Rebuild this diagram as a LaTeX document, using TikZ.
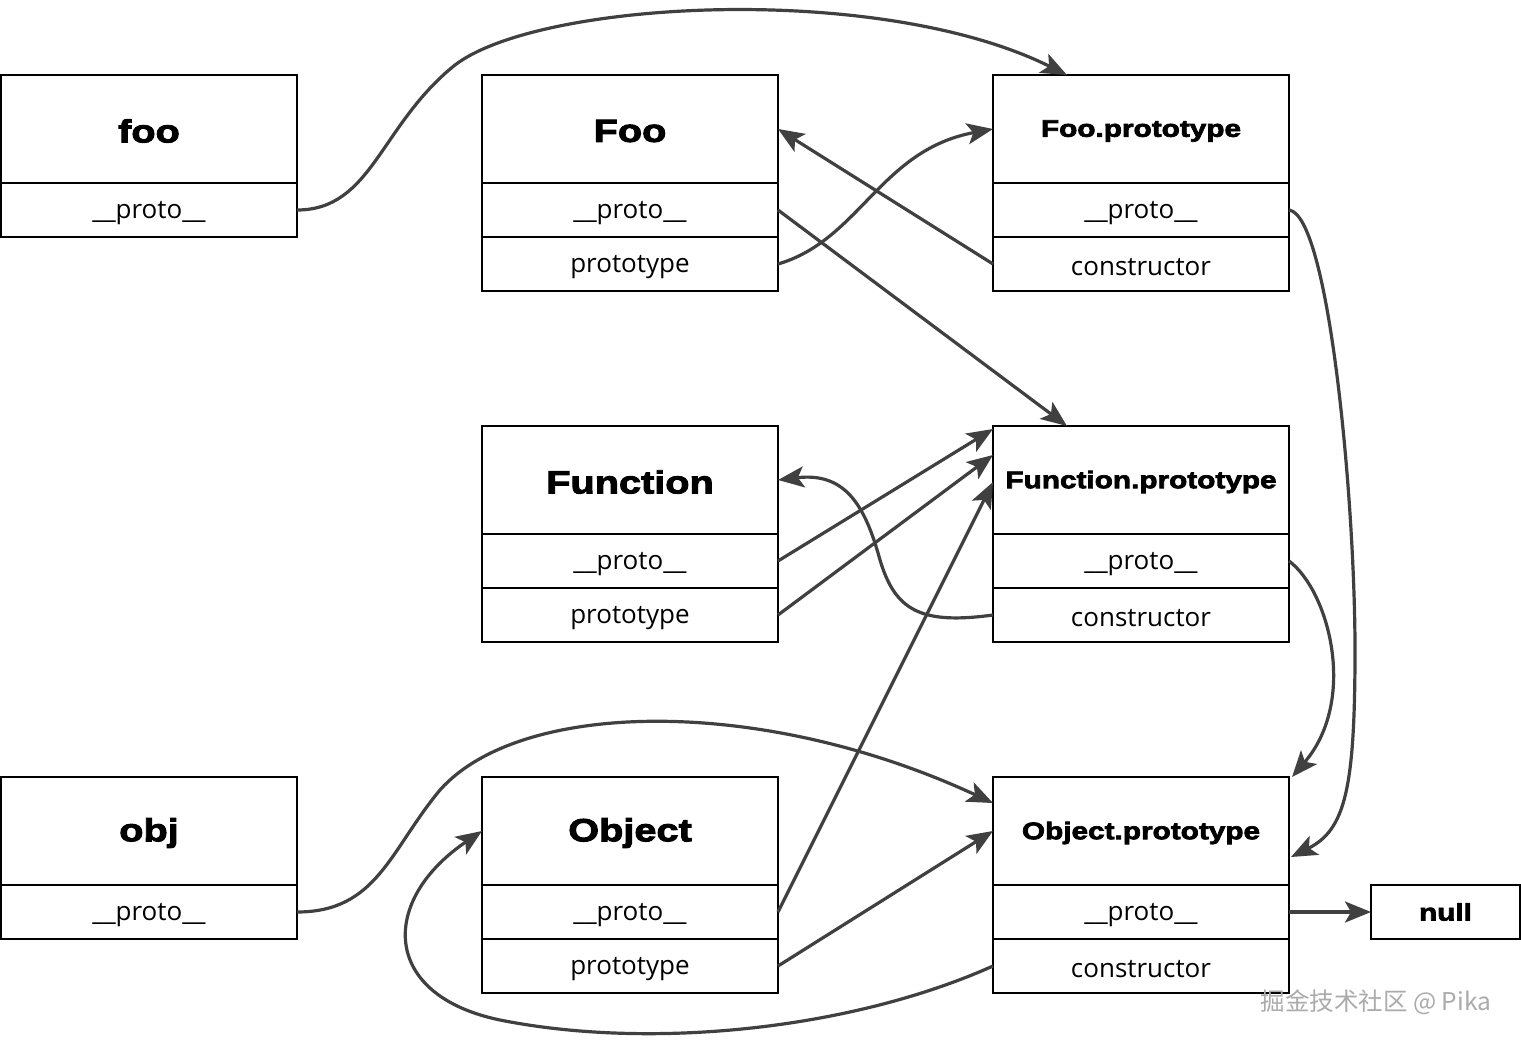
\documentclass[tikz,border=0pt]{standalone}
\usepackage{fontspec}
\setmainfont{Open Sans}
\newfontfamily\titlefont[FakeBold=3,FakeStretch=1.24]{Liberation Sans Bold}
\newfontfamily\cjk{Noto Sans CJK SC}
\usetikzlibrary{arrows.meta,calc}
\definecolor{arr}{HTML}{404040}
\newcommand{\fl}[1]{\raisebox{-3.5pt}[\height][\depth]{#1}}
\newcommand{\tl}[1]{\raisebox{-2pt}[\height][\depth]{#1}}
\begin{document}
\begin{tikzpicture}[x=1pt,y=-1pt,
  hdr/.style={draw=black,line width=1.3pt,outer sep=0pt,minimum width=296pt,minimum height=108pt,inner sep=0pt,anchor=north west},
  fld/.style={draw=black,line width=1.3pt,outer sep=0pt,minimum width=296pt,minimum height=54pt,inner sep=0pt,anchor=north,font=\fontsize{26}{30}\selectfont},
  big/.style={font=\titlefont\fontsize{32}{36}\selectfont},
  mid/.style={font=\titlefont\fontsize{24}{28}\selectfont},
  link/.style={draw=arr,line width=3.2pt,-{Stealth[length=26pt,width=21pt,inset=6pt]}}
]
\useasboundingbox (0,0) rectangle (1521,1044);
\fill[white] (0,0) rectangle (1521,1044);

% foo
\node[hdr,big] (foo) at (1,75) {\tl{foo}};
\node[fld] (fooP) at (foo.south) {\fl{\_\_proto\_\_}};
% Foo
\node[hdr,big] (Foo) at (482,75) {\tl{Foo}};
\node[fld] (FooP) at (Foo.south) {\fl{\_\_proto\_\_}};
\node[fld] (FooT) at (FooP.south) {\fl{prototype}};
% Foo.prototype
\node[hdr,mid] (FPT) at (993,75) {\tl{Foo.prototype}};
\node[fld] (FPTP) at (FPT.south) {\fl{\_\_proto\_\_}};
\node[fld] (FPTC) at (FPTP.south) {\fl{constructor}};
% Function
\node[hdr,big] (Fn) at (482,426) {\tl{Function}};
\node[fld] (FnP) at (Fn.south) {\fl{\_\_proto\_\_}};
\node[fld] (FnT) at (FnP.south) {\fl{prototype}};
% Function.prototype
\node[hdr,mid] (FnPT) at (993,426) {\tl{Function.prototype}};
\node[fld] (FnPTP) at (FnPT.south) {\fl{\_\_proto\_\_}};
\node[fld] (FnPTC) at (FnPTP.south) {\fl{constructor}};
% obj
\node[hdr,big] (obj) at (1,777) {\tl{obj}};
\node[fld] (objP) at (obj.south) {\fl{\_\_proto\_\_}};
% Object
\node[hdr,big] (Ob) at (482,777) {\tl{Object}};
\node[fld] (ObP) at (Ob.south) {\fl{\_\_proto\_\_}};
\node[fld] (ObT) at (ObP.south) {\fl{prototype}};
% Object.prototype
\node[hdr,mid] (OPT) at (993,777) {\tl{Object.prototype}};
\node[fld] (OPTP) at (OPT.south) {\fl{\_\_proto\_\_}};
\node[fld] (OPTC) at (OPTP.south) {\fl{constructor}};
% null
\node[draw=black,line width=1.3pt,outer sep=0pt,minimum width=149pt,minimum height=54pt,inner sep=0pt,anchor=north west,mid] (null) at (1371,885) {null};

% watermark
\node[font=\cjk\fontsize{24.5}{28}\selectfont,text=black!33] (wm) at (1376,1002) {掘金技术社区 @ Pika};

% connectors
\coordinate (FPTtop) at ($(FPT.north west)!0.25!(FPT.north east)$);
\coordinate (FnPTtop) at ($(FnPT.north west)!0.25!(FnPT.north east)$);
\draw[link] (fooP.east) .. controls +(75,0) and (380,125) .. (455,65) .. controls (540,0) and (880,-18) .. (FPTtop);
\draw[link] (FooT.east) .. controls +(82,-24) and (880,150) .. (FPT.west);
\draw[link] (FPTC.west) -- (Foo.east);
\draw[link] (FooP.east) -- (FnPTtop);
\draw[link] (FPTP.east) .. controls +(40,5) and (1355,500) .. (1355,650) .. controls (1355,790) and (1345,830) .. ($(OPT.east)+(2,26)$);
\draw[link] (FnP.east) -- ($(FnPT.north west)+(0,3)$);
\draw[link] (FnT.east) -- ($(FnPT.north west)+(0,29)$);
\draw[link] (FnPTC.west) .. controls +(-73,10) and (895,610) .. (880,560) .. controls (865,505) and (845,472) .. (Fn.east);
\draw[link] (FnPTP.east) .. controls +(40,30) and (1358,700) .. ($(OPT.north east)+(3,0)$);
\draw[link] (objP.east) .. controls +(80,0) and (390,850) .. (440,790) .. controls (520,700) and (760,695) .. ($(OPT.west)+(0,-28)$);
\draw[link] (ObP.east) -- ($(FnPT.west)+(0,2)$);
\draw[link] (ObT.east) -- (OPT.west);
\draw[link] (OPTP.east) -- (null.west);
\draw[link] (OPTC.west) .. controls +(-143,64) and (650,1050) .. (500,1020) .. controls (380,995) and (380,900) .. (Ob.west);
\end{tikzpicture}
\end{document}
